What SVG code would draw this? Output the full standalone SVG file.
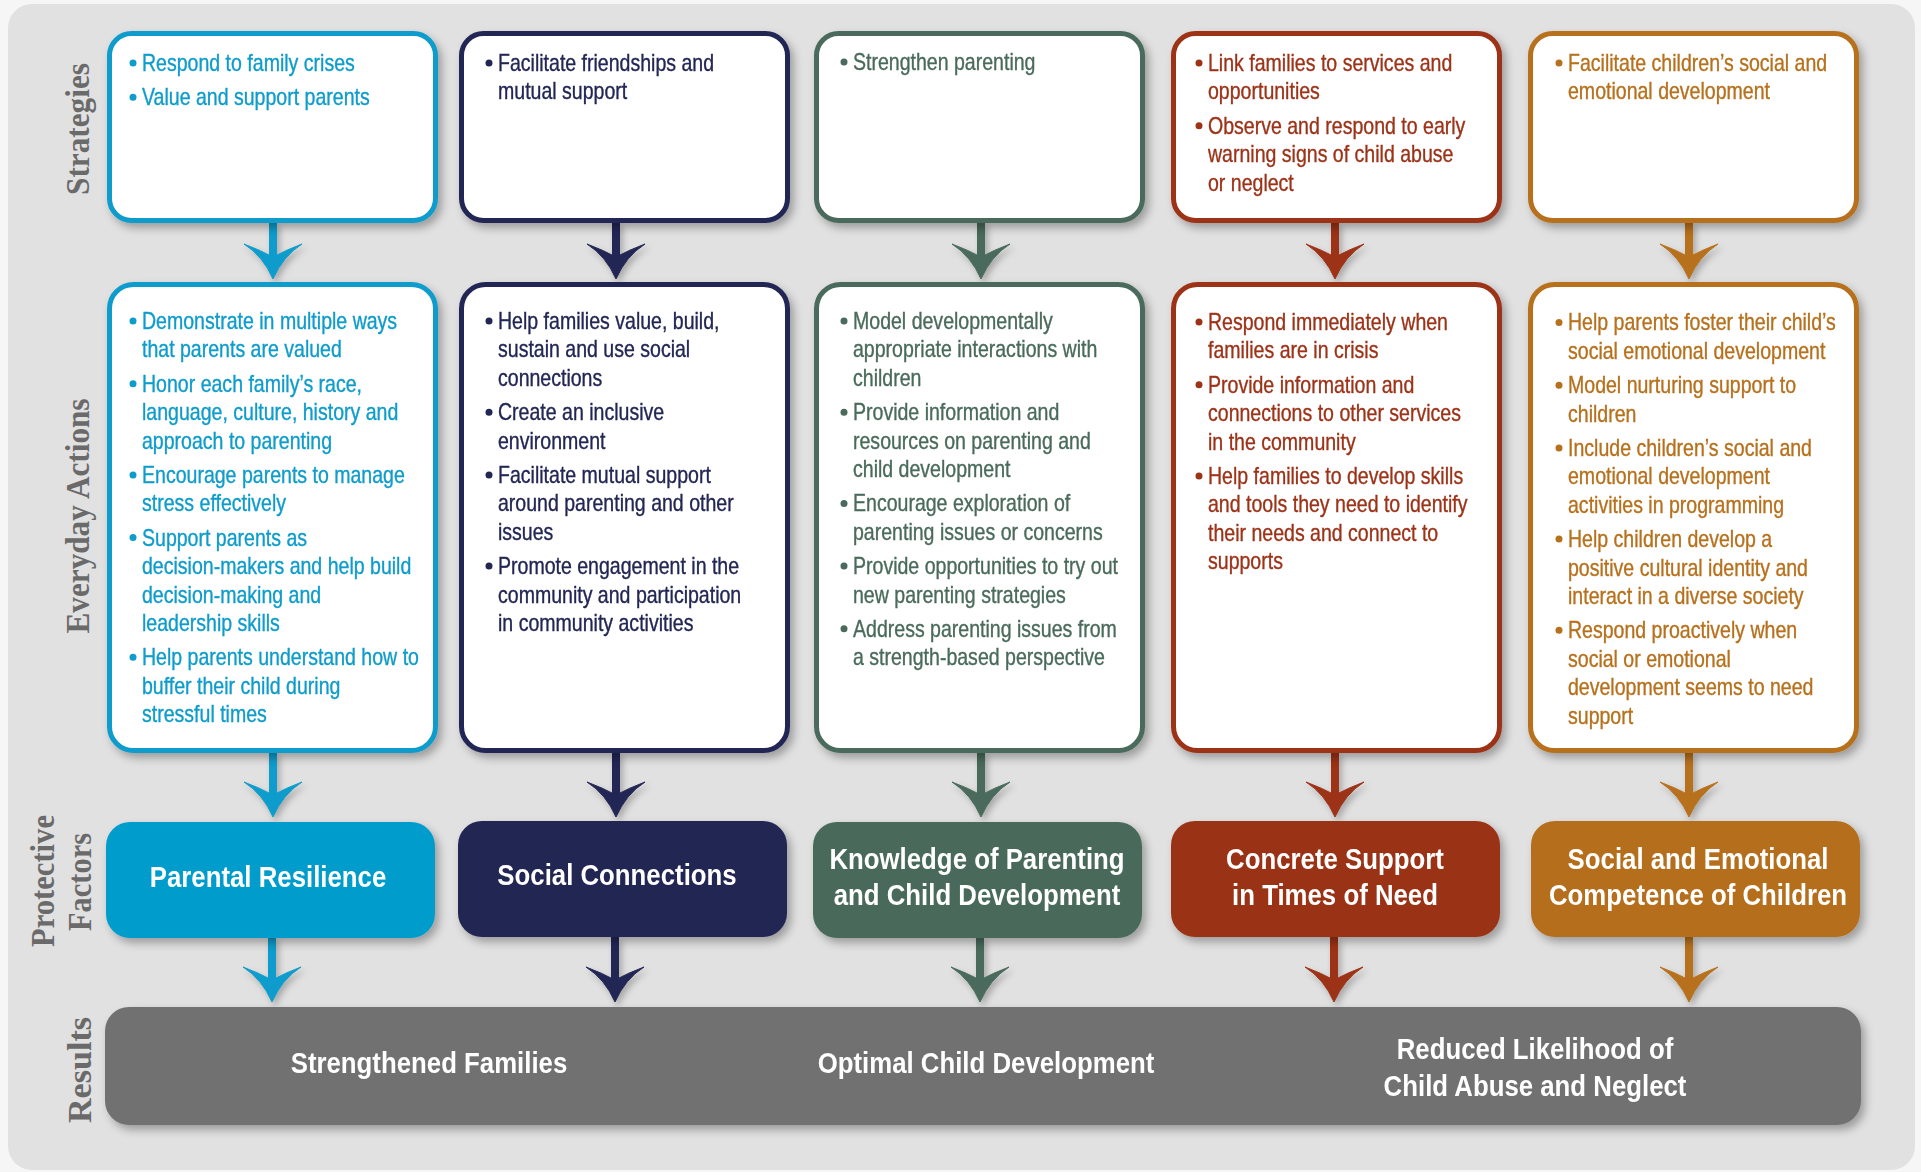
<svg xmlns="http://www.w3.org/2000/svg" xmlns:xlink="http://www.w3.org/1999/xlink" width="1921" height="1172" viewBox="0 0 1921 1172">
<defs>
<style>
.t{font-family:"Liberation Sans",Arial,sans-serif;font-size:23px;stroke-width:0.35px}
.bt{font-family:"Liberation Sans",Arial,sans-serif;font-weight:bold;font-size:30px;fill:#fff;text-anchor:middle}
.lab{font-family:"Liberation Serif","Times New Roman",serif;font-weight:bold;font-size:34px;fill:#6a6a6a;text-anchor:middle}
.box{fill:#fff;stroke-width:5}
.s1{stroke:#0e9ccb}.s2{stroke:#222654}.s3{stroke:#4a6b5b}.s4{stroke:#9c3218}.s5{stroke:#b7701c}
.c1{fill:#0e9ccb}.c2{fill:#222654}.c3{fill:#4a6b5b}.c4{fill:#9c3218}.c5{fill:#b7701c}
.k1{stroke:#0e9ccb}.k2{stroke:#222654}.k3{stroke:#4a6b5b}.k4{stroke:#9c3218}.k5{stroke:#b7701c}
.stem{stroke-width:8}
</style>
<filter id="sh" x="-10%" y="-10%" width="125%" height="130%">
<feDropShadow dx="4" dy="5" stdDeviation="4" flood-color="#000" flood-opacity="0.3"/>
</filter>
<filter id="sha" x="-40%" y="-40%" width="190%" height="190%">
<feDropShadow dx="3" dy="4" stdDeviation="3" flood-color="#000" flood-opacity="0.25"/>
</filter>
<path id="ah" d="M0 0 Q-10 -23 -29 -35 Q-13 -29 0 -22 Q13 -29 29 -35 Q10 -23 0 0 Z"/>
</defs>

<rect x="0" y="0" width="1921" height="1172" fill="#f6f6f6"/>
<rect x="8" y="4" width="1907" height="1166" rx="24" fill="#e1e1e1"/>

<!-- Row labels -->
<g id="row-labels">
<text class="lab" transform="translate(89 129) rotate(-90)" textLength="132" lengthAdjust="spacingAndGlyphs">Strategies</text>
<text class="lab" transform="translate(89 516) rotate(-90)" textLength="235" lengthAdjust="spacingAndGlyphs">Everyday Actions</text>
<text class="lab" transform="translate(54 881) rotate(-90)" textLength="132" lengthAdjust="spacingAndGlyphs">Protective</text>
<text class="lab" transform="translate(91 882) rotate(-90)" textLength="98" lengthAdjust="spacingAndGlyphs">Factors</text>
<text class="lab" transform="translate(91 1070) rotate(-90)" textLength="106" lengthAdjust="spacingAndGlyphs">Results</text>
</g>

<!-- Connectors -->
<g id="connectors" filter="url(#sha)">
<g class="k1 c1">
<line class="stem" x1="273" y1="222" x2="273" y2="260"/><use xlink:href="#ah" x="273" y="279"/>
<line class="stem" x1="273" y1="752" x2="273" y2="798"/><use xlink:href="#ah" x="273" y="817"/>
<line class="stem" x1="272" y1="937" x2="272" y2="983"/><use xlink:href="#ah" x="272" y="1002"/>
</g>
<g class="k2 c2">
<line class="stem" x1="616" y1="222" x2="616" y2="260"/><use xlink:href="#ah" x="616" y="279"/>
<line class="stem" x1="616" y1="752" x2="616" y2="798"/><use xlink:href="#ah" x="616" y="817"/>
<line class="stem" x1="615" y1="937" x2="615" y2="983"/><use xlink:href="#ah" x="615" y="1002"/>
</g>
<g class="k3 c3">
<line class="stem" x1="981" y1="222" x2="981" y2="260"/><use xlink:href="#ah" x="981" y="279"/>
<line class="stem" x1="981" y1="752" x2="981" y2="798"/><use xlink:href="#ah" x="981" y="817"/>
<line class="stem" x1="980" y1="937" x2="980" y2="983"/><use xlink:href="#ah" x="980" y="1002"/>
</g>
<g class="k4 c4">
<line class="stem" x1="1335" y1="222" x2="1335" y2="260"/><use xlink:href="#ah" x="1335" y="279"/>
<line class="stem" x1="1335" y1="752" x2="1335" y2="798"/><use xlink:href="#ah" x="1335" y="817"/>
<line class="stem" x1="1334" y1="937" x2="1334" y2="983"/><use xlink:href="#ah" x="1334" y="1002"/>
</g>
<g class="k5 c5">
<line class="stem" x1="1689" y1="222" x2="1689" y2="260"/><use xlink:href="#ah" x="1689" y="279"/>
<line class="stem" x1="1689" y1="752" x2="1689" y2="798"/><use xlink:href="#ah" x="1689" y="817"/>
<line class="stem" x1="1689" y1="937" x2="1689" y2="983"/><use xlink:href="#ah" x="1689" y="1002"/>
</g>
</g>

<!-- Strategies -->
<g id="strategy-1" filter="url(#sh)">
<rect class="box s1" x="109.5" y="33.5" width="326" height="187" rx="22"/>
<g class="c1"><circle cx="133" cy="63" r="3.5"/><circle cx="133" cy="97.2" r="3.5"/></g>
<g class="t c1 k1" transform="translate(142 0) scale(0.85 1)">
<text y="71">Respond to family crises</text>
<text y="105.2">Value and support parents</text>
</g>
</g>
<g id="strategy-2" filter="url(#sh)">
<rect class="box s2" x="461.5" y="33.5" width="326" height="187" rx="22"/>
<g class="c2"><circle cx="489" cy="63" r="3.5"/></g>
<g class="t c2 k2" transform="translate(498 0) scale(0.85 1)">
<text y="71">Facilitate friendships and</text>
<text y="99.5">mutual support</text>
</g>
</g>
<g id="strategy-3" filter="url(#sh)">
<rect class="box s3" x="816.5" y="33.5" width="326" height="187" rx="22"/>
<g class="c3"><circle cx="844" cy="62" r="3.5"/></g>
<g class="t c3 k3" transform="translate(853 0) scale(0.85 1)">
<text y="70">Strengthen parenting</text>
</g>
</g>
<g id="strategy-4" filter="url(#sh)">
<rect class="box s4" x="1173.5" y="33.5" width="326" height="187" rx="22"/>
<g class="c4"><circle cx="1199" cy="63" r="3.5"/><circle cx="1199" cy="125.7" r="3.5"/></g>
<g class="t c4 k4" transform="translate(1208 0) scale(0.85 1)">
<text y="71">Link families to services and</text>
<text y="99.5">opportunities</text>
<text y="133.7">Observe and respond to early</text>
<text y="162.2">warning signs of child abuse</text>
<text y="190.7">or neglect</text>
</g>
</g>
<g id="strategy-5" filter="url(#sh)">
<rect class="box s5" x="1530.5" y="33.5" width="326" height="187" rx="22"/>
<g class="c5"><circle cx="1559" cy="63" r="3.5"/></g>
<g class="t c5 k5" transform="translate(1568 0) scale(0.85 1)">
<text y="71">Facilitate children’s social and</text>
<text y="99.5">emotional development</text>
</g>
</g>

<!-- Everyday Actions -->
<g id="actions-1" filter="url(#sh)">
<rect class="box s1" x="109.5" y="284.5" width="326" height="466" rx="24"/>
<g class="c1"><circle cx="133" cy="321" r="3.5"/><circle cx="133" cy="383.7" r="3.5"/><circle cx="133" cy="474.9" r="3.5"/><circle cx="133" cy="537.6" r="3.5"/><circle cx="133" cy="657.3" r="3.5"/></g>
<g class="t c1 k1" transform="translate(142 0) scale(0.85 1)">
<text y="329">Demonstrate in multiple ways</text>
<text y="357.5">that parents are valued</text>
<text y="391.7">Honor each family’s race,</text>
<text y="420.2">language, culture, history and</text>
<text y="448.7">approach to parenting</text>
<text y="482.9">Encourage parents to manage</text>
<text y="511.4">stress effectively</text>
<text y="545.6">Support parents as</text>
<text y="574.1">decision-makers and help build</text>
<text y="602.6">decision-making and</text>
<text y="631.1">leadership skills</text>
<text y="665.3">Help parents understand how to</text>
<text y="693.8">buffer their child during</text>
<text y="722.3">stressful times</text>
</g>
</g>
<g id="actions-2" filter="url(#sh)">
<rect class="box s2" x="461.5" y="284.5" width="326" height="466" rx="24"/>
<g class="c2"><circle cx="489" cy="321" r="3.5"/><circle cx="489" cy="412.2" r="3.5"/><circle cx="489" cy="474.9" r="3.5"/><circle cx="489" cy="566.1" r="3.5"/></g>
<g class="t c2 k2" transform="translate(498 0) scale(0.85 1)">
<text y="329">Help families value, build,</text>
<text y="357.5">sustain and use social</text>
<text y="386">connections</text>
<text y="420.2">Create an inclusive</text>
<text y="448.7">environment</text>
<text y="482.9">Facilitate mutual support</text>
<text y="511.4">around parenting and other</text>
<text y="539.9">issues</text>
<text y="574.1">Promote engagement in the</text>
<text y="602.6">community and participation</text>
<text y="631.1">in community activities</text>
</g>
</g>
<g id="actions-3" filter="url(#sh)">
<rect class="box s3" x="816.5" y="284.5" width="326" height="466" rx="24"/>
<g class="c3"><circle cx="844" cy="321" r="3.5"/><circle cx="844" cy="412.2" r="3.5"/><circle cx="844" cy="503.4" r="3.5"/><circle cx="844" cy="566.1" r="3.5"/><circle cx="844" cy="628.8" r="3.5"/></g>
<g class="t c3 k3" transform="translate(853 0) scale(0.85 1)">
<text y="329">Model developmentally</text>
<text y="357.5">appropriate interactions with</text>
<text y="386">children</text>
<text y="420.2">Provide information and</text>
<text y="448.7">resources on parenting and</text>
<text y="477.2">child development</text>
<text y="511.4">Encourage exploration of</text>
<text y="539.9">parenting issues or concerns</text>
<text y="574.1">Provide opportunities to try out</text>
<text y="602.6">new parenting strategies</text>
<text y="636.8">Address parenting issues from</text>
<text y="665.3">a strength-based perspective</text>
</g>
</g>
<g id="actions-4" filter="url(#sh)">
<rect class="box s4" x="1173.5" y="284.5" width="326" height="466" rx="24"/>
<g class="c4"><circle cx="1199" cy="322" r="3.5"/><circle cx="1199" cy="384.7" r="3.5"/><circle cx="1199" cy="475.9" r="3.5"/></g>
<g class="t c4 k4" transform="translate(1208 0) scale(0.85 1)">
<text y="330">Respond immediately when</text>
<text y="358.5">families are in crisis</text>
<text y="392.7">Provide information and</text>
<text y="421.2">connections to other services</text>
<text y="449.7">in the community</text>
<text y="483.9">Help families to develop skills</text>
<text y="512.4">and tools they need to identify</text>
<text y="540.9">their needs and connect to</text>
<text y="569.4">supports</text>
</g>
</g>
<g id="actions-5" filter="url(#sh)">
<rect class="box s5" x="1530.5" y="284.5" width="326" height="466" rx="24"/>
<g class="c5"><circle cx="1559" cy="322.5" r="3.5"/><circle cx="1559" cy="385.2" r="3.5"/><circle cx="1559" cy="447.9" r="3.5"/><circle cx="1559" cy="539.1" r="3.5"/><circle cx="1559" cy="630.3" r="3.5"/></g>
<g class="t c5 k5" transform="translate(1568 0) scale(0.85 1)">
<text y="330.5">Help parents foster their child’s</text>
<text y="359">social emotional development</text>
<text y="393.2">Model nurturing support to</text>
<text y="421.7">children</text>
<text y="455.9">Include children’s social and</text>
<text y="484.4">emotional development</text>
<text y="512.9">activities in programming</text>
<text y="547.1">Help children develop a</text>
<text y="575.6">positive cultural identity and</text>
<text y="604.1">interact in a diverse society</text>
<text y="638.3">Respond proactively when</text>
<text y="666.8">social or emotional</text>
<text y="695.3">development seems to need</text>
<text y="723.8">support</text>
</g>
</g>

<!-- Protective Factors -->
<g id="factor-1" filter="url(#sh)">
<rect x="106" y="822" width="329" height="116" rx="24" fill="#009ccb"/>
<g class="bt" transform="translate(268 0) scale(0.86 1)"><text y="887">Parental Resilience</text></g>
</g>
<g id="factor-2" filter="url(#sh)">
<rect x="458" y="821" width="329" height="116" rx="24" fill="#222553"/>
<g class="bt" transform="translate(617 0) scale(0.86 1)"><text y="885">Social Connections</text></g>
</g>
<g id="factor-3" filter="url(#sh)">
<rect x="813" y="822" width="329" height="116" rx="24" fill="#496b5a"/>
<g class="bt" transform="translate(977 0) scale(0.86 1)"><text y="869">Knowledge of Parenting</text><text y="905">and Child Development</text></g>
</g>
<g id="factor-4" filter="url(#sh)">
<rect x="1171" y="821" width="329" height="116" rx="24" fill="#9a3218"/>
<g class="bt" transform="translate(1335 0) scale(0.86 1)"><text y="869">Concrete Support</text><text y="905">in Times of Need</text></g>
</g>
<g id="factor-5" filter="url(#sh)">
<rect x="1531" y="821" width="329" height="116" rx="24" fill="#b46e1b"/>
<g class="bt" transform="translate(1698 0) scale(0.86 1)"><text y="869">Social and Emotional</text><text y="905">Competence of Children</text></g>
</g>

<!-- Results -->
<g id="results" filter="url(#sh)">
<rect x="105" y="1007" width="1756" height="118" rx="24" fill="#717171"/>
<g class="bt" transform="translate(429 0) scale(0.86 1)"><text y="1073">Strengthened Families</text></g>
<g class="bt" transform="translate(986 0) scale(0.86 1)"><text y="1073">Optimal Child Development</text></g>
<g class="bt" transform="translate(1535 0) scale(0.86 1)"><text y="1059">Reduced Likelihood of</text><text y="1096">Child Abuse and Neglect</text></g>
</g>
</svg>
